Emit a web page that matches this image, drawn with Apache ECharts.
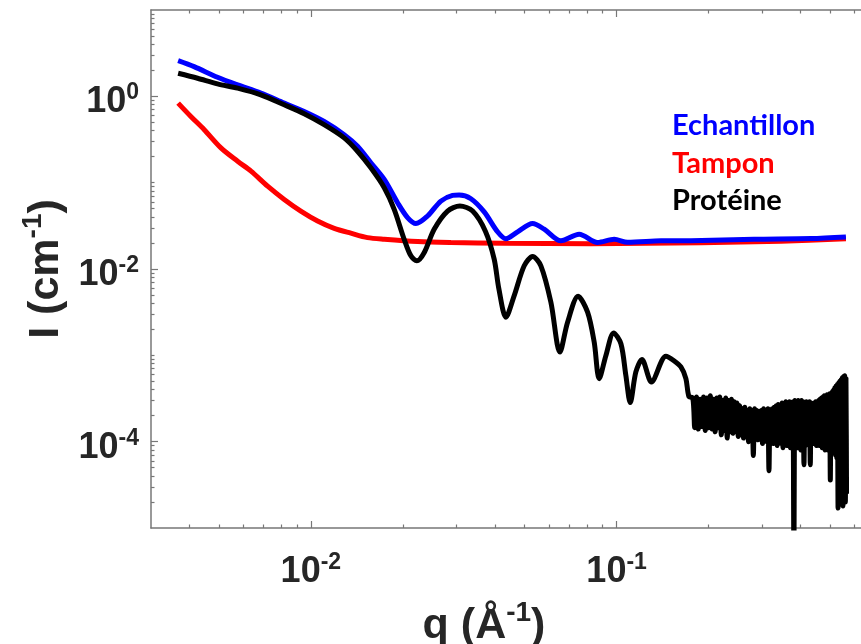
<!DOCTYPE html>
<html><head><meta charset="utf-8">
<script src="https://cdn.jsdelivr.net/npm/echarts@6/dist/echarts.min.js"></script>
<style>html,body{margin:0;padding:0;background:#fff}#c{width:861px;height:644px}</style>
</head><body><div id="c"></div>
<script>
// ---------- data ----------
const seriesNames = ['Echantillon', 'Tampon', 'Protéine'];

const qEchantillon = [0.00368, 0.00415, 0.00495, 0.00576, 0.00686, 0.00818, 0.00951, 0.01105, 0.01285, 0.01421,
  0.01571, 0.01738, 0.01921, 0.02071, 0.02206, 0.02408, 0.02662, 0.02907, 0.03055, 0.03338,
  0.03689, 0.04079, 0.04344, 0.04745, 0.05311, 0.05797, 0.06574, 0.07543, 0.08665, 0.0982,
  0.1086, 0.1396, 0.175, 0.2818, 0.4321, 0.5624];
const iEchantillon = [2.588, 2.207, 1.665, 1.357, 1.089, 0.835, 0.668, 0.512, 0.360, 0.264,
  0.170, 0.109, 0.0586, 0.0394, 0.0336, 0.0411, 0.0612, 0.0712, 0.0721, 0.0652,
  0.0459, 0.0270, 0.0224, 0.0269, 0.0336, 0.0289, 0.0212, 0.0253, 0.0203, 0.0221,
  0.0204, 0.0212, 0.0213, 0.0221, 0.0225, 0.0235];

const qTampon = [0.00368, 0.00405, 0.00448, 0.00508, 0.00576, 0.00637, 0.00722, 0.00818, 0.00927, 0.01052,
  0.01192, 0.01351, 0.01532, 0.01738, 0.02234, 0.02871, 0.04288, 0.08237, 0.1887, 0.3447, 0.5624];
const iTampon = [0.835, 0.585, 0.411, 0.253, 0.177, 0.136, 0.0911, 0.0640, 0.0469, 0.0360,
  0.0296, 0.0260, 0.0231, 0.0221, 0.0208, 0.0203, 0.0199, 0.0196, 0.0202, 0.0210, 0.0224];

// Protéine: smooth oscillating part
const qProteine = [0.00368, 0.00426, 0.00495, 0.00576, 0.00686, 0.00818, 0.00951, 0.01105, 0.01285, 0.01421,
  0.01571, 0.01738, 0.01873, 0.02019, 0.02124, 0.02222, 0.02349, 0.02531, 0.0280, 0.03071,
  0.03381, 0.03722, 0.03977, 0.04121, 0.04344, 0.04624, 0.04986, 0.05311, 0.05653, 0.06096,
  0.06524, 0.06913, 0.07483, 0.08036, 0.08447, 0.08771, 0.09226, 0.09777, 0.1033, 0.1072,
  0.1108, 0.1156, 0.121, 0.130, 0.145, 0.154, 0.1623, 0.1685, 0.1724];
const iProteine = [1.852, 1.621, 1.394, 1.243, 1.041, 0.798, 0.628, 0.469, 0.330, 0.231,
  0.1485, 0.0873, 0.0491, 0.0221, 0.0142, 0.01243, 0.01554, 0.0289, 0.0469, 0.0536,
  0.0469, 0.0274, 0.0130, 0.00586, 0.00277, 0.00491, 0.01089, 0.01397, 0.01089, 0.00412,
  0.00109, 0.00242, 0.00483, 0.00316, 0.00142, 0.000537, 0.000997, 0.00182, 0.00136, 0.000586,
  0.000284, 0.000642, 0.000897, 0.000492, 0.000976, 0.000866, 0.000733, 0.000537, 0.000333];

// Protéine: noisy high-q part
const qProteineNoisy = [
  0.1775, 0.18, 0.1825, 0.185, 0.1875, 0.19, 0.1925, 0.195, 0.1975, 0.2,
  0.2025, 0.205, 0.2075, 0.21, 0.2125, 0.215, 0.2175, 0.22, 0.2225, 0.225,
  0.2275, 0.23, 0.2325, 0.235, 0.2375, 0.24, 0.2425, 0.245, 0.2475, 0.25,
  0.2525, 0.255, 0.2575, 0.26, 0.2625, 0.265, 0.2675, 0.27, 0.2725, 0.275,
  0.2775, 0.28, 0.2825, 0.285, 0.2875, 0.29, 0.2925, 0.295, 0.2975, 0.3,
  0.3025, 0.305, 0.3075, 0.31, 0.3125, 0.315, 0.3175, 0.32, 0.3225, 0.325,
  0.3275, 0.33, 0.3325, 0.335, 0.3375, 0.34, 0.3425, 0.345, 0.3475, 0.35,
  0.3525, 0.355, 0.3575, 0.36, 0.3625, 0.365, 0.3675, 0.37, 0.3725, 0.375,
  0.3775, 0.38, 0.3825, 0.385, 0.3875, 0.39, 0.3925, 0.395, 0.3975, 0.4,
  0.4025, 0.405, 0.4075, 0.41, 0.4125, 0.415, 0.4175, 0.42, 0.4225, 0.425,
  0.4275, 0.43, 0.4325, 0.435, 0.4375, 0.44, 0.4425, 0.445, 0.4475, 0.45,
  0.4525, 0.455, 0.4575, 0.46, 0.4625, 0.465, 0.4675, 0.47, 0.4725, 0.475,
  0.4775, 0.48, 0.4825, 0.485, 0.4875, 0.49, 0.4925, 0.495, 0.4975, 0.5,
  0.5025, 0.505, 0.5075, 0.51, 0.5125, 0.515, 0.5175, 0.52, 0.5225, 0.525,
  0.5275, 0.53, 0.5325, 0.535, 0.5375, 0.54, 0.5425, 0.545, 0.5475, 0.55,
  0.5525, 0.555, 0.5575, 0.56, 0.5625, 0.565];
const iProteineNoisy = [
  3.2e-4, 1.45e-4, 3.3e-4, 1.4e-4, 3.1e-4, 1.5e-4, 3.3e-4, 1.35e-4, 3.2e-4, 1.45e-4,
  3.4e-4, 1.4e-4, 3.1e-4, 1.3e-4, 3.2e-4, 1.45e-4, 3.3e-4, 1.2e-4, 3.0e-4, 1.35e-4,
  3.2e-4, 1.1e-4, 3.0e-4, 1.3e-4, 3.1e-4, 1.25e-4, 2.9e-4, 1.3e-4, 2.8e-4, 1.15e-4,
  2.6e-4, 1.2e-4, 2.4e-4, 1.1e-4, 2.5e-4, 1.2e-4, 2.3e-4, 1.0e-4, 2.4e-4, 1.15e-4,
  2.3e-4, 6.9e-5, 2.4e-4, 1.1e-4, 2.3e-4, 1.05e-4, 2.2e-4, 1.1e-4, 2.3e-4, 9.5e-5,
  2.4e-4, 1.1e-4, 2.3e-4, 1.0e-4, 2.4e-4, 4.6e-5, 2.3e-4, 1.0e-4, 2.4e-4, 9.5e-5,
  2.5e-4, 1.05e-4, 2.6e-4, 9.0e-5, 2.7e-4, 1.0e-4, 2.6e-4, 9.5e-5, 2.8e-4, 8.5e-5,
  2.7e-4, 1.0e-4, 2.9e-4, 9.0e-5, 2.8e-4, 9.5e-5, 2.9e-4, 8.5e-5, 2.8e-4, 9.5e-5,
  2.9e-4, 5.0e-6, 3.0e-4, 9.0e-5, 2.9e-4, 8.5e-5, 3.0e-4, 9.5e-5, 2.9e-4, 8.0e-5,
  3.0e-4, 9.5e-5, 2.9e-4, 5.4e-5, 2.8e-4, 9.0e-5, 2.9e-4, 1.0e-4, 2.8e-4, 9.5e-5,
  2.9e-4, 5.4e-5, 2.8e-4, 1.0e-4, 2.7e-4, 9.5e-5, 2.8e-4, 1.0e-4, 2.9e-4, 9.0e-5,
  2.8e-4, 1.0e-4, 3.0e-4, 9.0e-5, 3.1e-4, 9.5e-5, 3.2e-4, 8.5e-5, 3.3e-4, 9.5e-5,
  3.4e-4, 8.0e-5, 3.4e-4, 9.0e-5, 3.5e-4, 8.0e-5, 3.5e-4, 9.0e-5, 3.6e-4, 3.6e-5,
  3.6e-4, 8.5e-5, 3.8e-4, 8.0e-5, 4.0e-4, 7.5e-5, 4.2e-4, 7.0e-5, 4.4e-4, 6.5e-5,
  4.6e-4, 1.7e-5, 4.8e-4, 6.0e-5, 5.0e-4, 5.0e-5, 5.2e-4, 4.0e-5, 5.5e-4, 1.8e-5,
  5.7e-4, 3.0e-5, 5.8e-4, 2.0e-5, 5.5e-4, 2.5e-5];

// axis ranges and tick labels
const xRange = [0.003, 0.7];
const yRange = [1e-5, 10];
const xMajorTicks = [0.01, 0.1];
const xMinorTicks = [0.004, 0.005, 0.006, 0.007, 0.008, 0.009, 0.02, 0.03, 0.04, 0.05, 0.06, 0.07, 0.08, 0.09, 0.2, 0.3, 0.4, 0.5, 0.6];
const yMajorTicks = [1, 0.01, 0.0001];
const yMinorDecades = [1e-5, 1e-4, 1e-3, 1e-2, 1e-1, 1];
const yMinorMantissas = [2, 3, 4, 5, 6, 7, 8, 9];
const yMinorExtraTicks = [1e-3, 1e-1];

// ---------- chart ----------
const L = v => Math.log10(v);
const yMinorTicks = [];
yMinorDecades.forEach(d => yMinorMantissas.forEach(m => yMinorTicks.push(m * d)));
yMinorExtraTicks.forEach(v => yMinorTicks.push(v));

const FF = '"Liberation Sans", Arial, Helvetica, sans-serif';
const TXT = '#262626';
const AX = '#777777';
const tickRich = {
  m: {fontFamily: FF, fontWeight: 'bold', fontSize: 36, lineHeight: 36, color: TXT, padding: [6, 0, 0, 0]},
  s: {fontFamily: FF, fontWeight: 'bold', fontSize: 23, lineHeight: 23, color: TXT, verticalAlign: 'top'}
};
const titleRich = {
  m: {fontFamily: FF, fontWeight: 'bold', fontSize: 43, lineHeight: 44, color: TXT, padding: [10, 0, 0, 0]},
  s: {fontFamily: FF, fontWeight: 'bold', fontSize: 28, lineHeight: 28, color: TXT, verticalAlign: 'top'}
};
const expLabel = v => '{m|10}{s|' + Math.round(v) + '}';

function decoAxis(range, position, ticks, len, showLine, extra) {
  return Object.assign({
    type: 'value', min: L(range[0]), max: L(range[1]), position: position,
    axisLine: {show: showLine, onZero: false, lineStyle: {color: AX, width: 1.5}},
    axisTick: {show: true, inside: true, length: len, customValues: ticks.map(L), lineStyle: {color: AX, width: 1.2}},
    axisLabel: {show: false},
    splitLine: {show: false}
  }, extra || {});
}

const chart = echarts.init(document.getElementById('c'), null, {renderer: 'canvas'});
chart.setOption({
  animation: false,
  backgroundColor: '#ffffff',
  grid: {left: 151, right: -14, top: 10, bottom: 116, containLabel: false, outerBoundsMode: 'none'},
  legend: {
    orient: 'vertical', left: 662, top: 105.5, icon: 'none',
    itemWidth: 0, itemHeight: 30, itemGap: 7.7, selectedMode: false,
    textStyle: {fontFamily: 'Lato, "Open Sans", sans-serif', fontWeight: 'bold', fontSize: 29, lineHeight: 30},
    data: [
      {name: seriesNames[0], textStyle: {color: '#0000ff'}},
      {name: seriesNames[1], textStyle: {color: '#ff0000'}},
      {name: seriesNames[2], textStyle: {color: '#000000'}}
    ]
  },
  xAxis: [
    {type: 'log', logBase: 10, min: xRange[0], max: xRange[1], show: false},
    decoAxis(xRange, 'bottom', xMajorTicks, 7, true, {
      axisLabel: {show: true, customValues: xMajorTicks.map(L), margin: 23, formatter: expLabel, rich: tickRich},
      name: '{m|q (Å}{s|-1}{m|)}', nameLocation: 'middle', nameGap: 61,
      nameTextStyle: {rich: titleRich, padding: [0, 58, 0, 0]}
    }),
    decoAxis(xRange, 'bottom', xMinorTicks, 3.5, false),
    decoAxis(xRange, 'top', xMajorTicks, 7, true),
    decoAxis(xRange, 'top', xMinorTicks, 3.5, false)
  ],
  yAxis: [
    {type: 'log', logBase: 10, min: yRange[0], max: yRange[1], show: false},
    decoAxis(yRange, 'left', yMajorTicks, 7, true, {
      axisLabel: {show: true, customValues: yMajorTicks.map(L), margin: 12, formatter: expLabel, rich: tickRich, padding: [6, 0, 0, 0]},
      name: '{m|I (cm}{s|-1}{m|)}', nameLocation: 'middle', nameGap: 88,
      nameTextStyle: {rich: titleRich}
    }),
    decoAxis(yRange, 'left', yMinorTicks, 3.5, false)
  ],
  series: [
    {name: seriesNames[1], type: 'line', xAxisIndex: 0, yAxisIndex: 0, showSymbol: false, symbol: 'none', smooth: 0.3,
     lineStyle: {color: '#ff0000', width: 5}, itemStyle: {color: '#ff0000'},
     data: qTampon.map((q, i) => [q, iTampon[i]])},
    {name: seriesNames[0], type: 'line', xAxisIndex: 0, yAxisIndex: 0, showSymbol: false, symbol: 'none', smooth: 0.3,
     lineStyle: {color: '#0000ff', width: 5}, itemStyle: {color: '#0000ff'},
     data: qEchantillon.map((q, i) => [q, iEchantillon[i]])},
    {name: seriesNames[2], type: 'line', xAxisIndex: 0, yAxisIndex: 0, showSymbol: false, symbol: 'none', smooth: 0.3,
     lineStyle: {color: '#000000', width: 5}, itemStyle: {color: '#000000'},
     data: qProteine.map((q, i) => [q, iProteine[i]])
       .concat(qProteineNoisy.map((q, i) => [q, iProteineNoisy[i]]))}
  ]
});
</script>
</body></html>
